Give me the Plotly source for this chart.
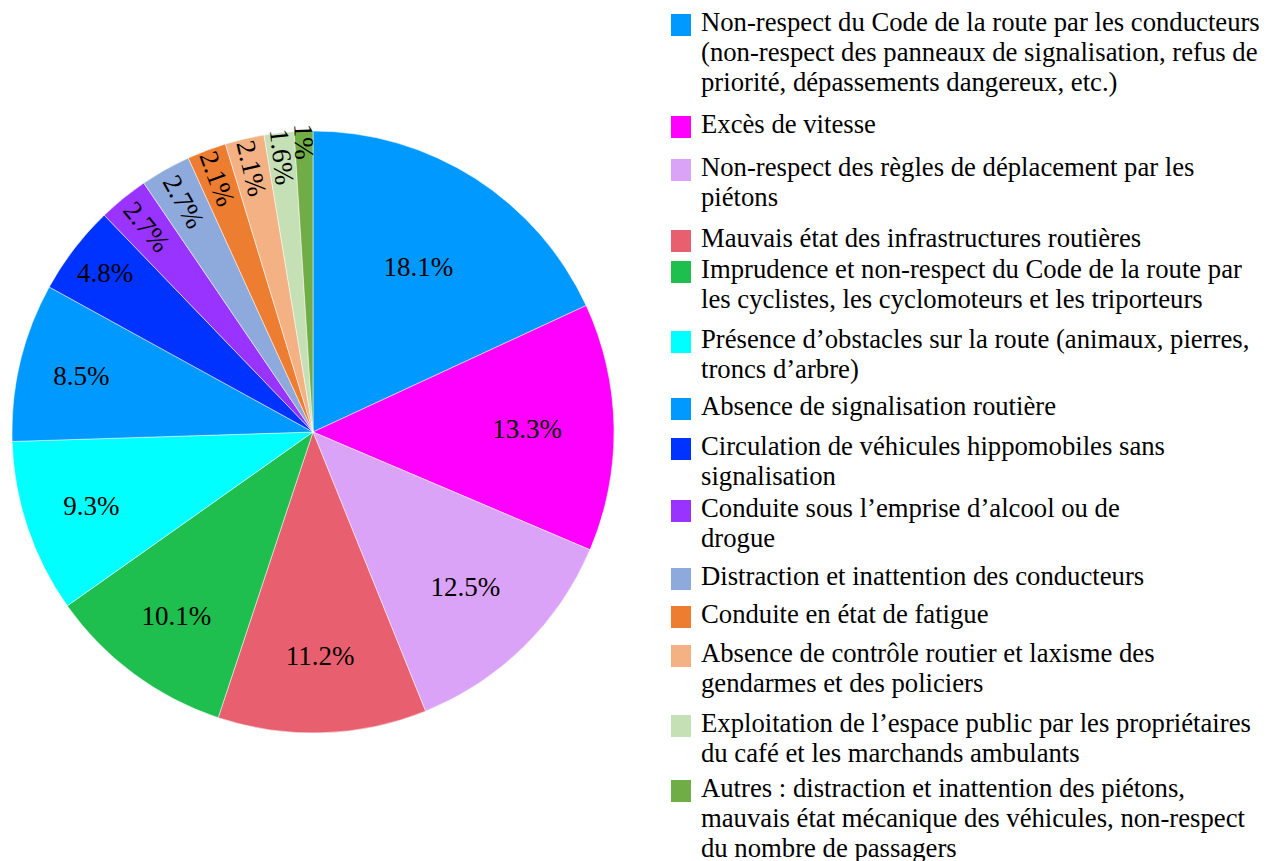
import plotly.graph_objects as go

# causes of road accidents, share of answers (%)
causes = [
    "Non-respect du Code de la route par les conducteurs (non-respect des panneaux de signalisation, refus de priorité, dépassements dangereux, etc.)",
    "Excès de vitesse",
    "Non-respect des règles de déplacement par les piétons",
    "Mauvais état des infrastructures routières",
    "Imprudence et non-respect du Code de la route par les cyclistes, les cyclomoteurs et les triporteurs",
    "Présence d’obstacles sur la route (animaux, pierres, troncs d’arbre)",
    "Absence de signalisation routière",
    "Circulation de véhicules hippomobiles sans signalisation",
    "Conduite sous l’emprise d’alcool ou de drogue",
    "Distraction et inattention des conducteurs",
    "Conduite en état de fatigue",
    "Absence de contrôle routier et laxisme des gendarmes et des policiers",
    "Exploitation de l’espace public par les propriétaires du café et les marchands ambulants",
    "Autres : distraction et inattention des piétons, mauvais état mécanique des véhicules, non-respect du nombre de passagers",
]
shares = [18.1, 13.3, 12.5, 11.2, 10.1, 9.3, 8.5, 4.8, 2.7, 2.7, 2.1, 2.1, 1.6, 1]

# legend text, split the way the original wraps it
legend_lines = [
    ["Non-respect du Code de la route par les conducteurs",
     "(non-respect des panneaux de signalisation, refus de",
     "priorité, dépassements dangereux, etc.)"],
    ["Excès de vitesse"],
    ["Non-respect des règles de déplacement par les", "piétons"],
    ["Mauvais état des infrastructures routières"],
    ["Imprudence et non-respect du Code de la route par",
     "les cyclistes, les cyclomoteurs et les triporteurs"],
    ["Présence d’obstacles sur la route (animaux, pierres,", "troncs d’arbre)"],
    ["Absence de signalisation routière"],
    ["Circulation de véhicules hippomobiles sans", "signalisation"],
    ["Conduite sous l’emprise d’alcool ou de", "drogue"],
    ["Distraction et inattention des conducteurs"],
    ["Conduite en état de fatigue"],
    ["Absence de contrôle routier et laxisme des", "gendarmes et des policiers"],
    ["Exploitation de l’espace public par les propriétaires",
     "du café et les marchands ambulants"],
    ["Autres : distraction et inattention des piétons,",
     "mauvais état mécanique des véhicules, non-respect",
     "du nombre de passagers"],
]

colors = ["#0099FF", "#FF00FF", "#DBA3F7", "#E8606F", "#1EBE4F", "#00FFFF", "#0099FF",
          "#0033FF", "#9933FF", "#8EA9DB", "#ED7D31", "#F4B183", "#C5E0B4", "#70AD47"]

W, H = 1273, 861
OFF = 8  # the page body adds an 8px margin around the figure
FONT = "Liberation Serif"


def px_x(x):
    return (x - OFF) / W


def px_y(y):
    return 1 - (y - OFF) / H


fig = go.Figure(
    go.Pie(
        labels=causes,
        values=shares,
        text=[f"{v:g}%" for v in shares],
        textinfo="text",
        textposition="inside",
        insidetextorientation="auto",
        textfont=dict(family=FONT, size=27, color="black"),
        marker=dict(colors=colors, line=dict(color="white", width=0.5)),
        sort=False,
        direction="clockwise",
        rotation=0,
        hoverinfo="label+percent",
        domain=dict(x=[px_x(12), px_x(614)], y=[px_y(733), px_y(131)]),
        showlegend=False,
    )
)

# hand-drawn legend so the line spacing matches the original
entry_baselines = [31, 133, 176, 247, 278, 348, 415, 455, 517, 585, 623, 662, 732, 797]
line_pitch = 30
for lines, base, col in zip(legend_lines, entry_baselines, colors):
    fig.add_shape(
        type="rect", xref="paper", yref="paper",
        x0=px_x(671), x1=px_x(691), y0=px_y(base + 5), y1=px_y(base - 17),
        fillcolor=col, line=dict(width=0),
    )
    for i, line in enumerate(lines):
        fig.add_annotation(
            x=px_x(699), y=px_y(base + i * line_pitch - 9),
            xref="paper", yref="paper", xanchor="left", yanchor="middle",
            text=line, showarrow=False,
            font=dict(family=FONT, size=26.7, color="black"),
        )

fig.update_layout(
    width=W,
    height=H,
    margin=dict(l=0, r=0, t=0, b=0),
    paper_bgcolor="white",
    plot_bgcolor="white",
    uniformtext=dict(minsize=27, mode="show"),
    font=dict(family=FONT, color="black"),
)

fig.write_html("out.html")
